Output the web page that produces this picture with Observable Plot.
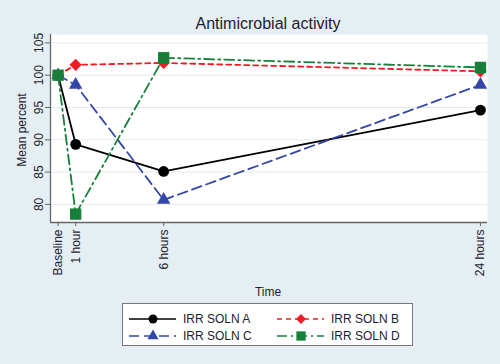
<!DOCTYPE html>
<html><head><meta charset="utf-8">
<script src="https://cdn.jsdelivr.net/npm/d3@7"></script>
<script src="https://cdn.jsdelivr.net/npm/@observablehq/plot@0.6"></script>
<style>
html,body{margin:0;padding:0;background:#e5eef2;}
#wrap{position:relative;width:500px;height:364px;background:#e5eef2;font-family:"Liberation Sans",Arial,sans-serif;overflow:hidden;}
#wrap svg.plot{position:absolute;left:0;top:0;background:transparent;}
.title{position:absolute;left:0;width:536px;top:15px;text-align:center;font-size:16px;line-height:18px;color:#1b2330;}
.ylab{position:absolute;left:22px;top:130px;font-size:12px;line-height:12px;color:#1b2330;white-space:nowrap;transform:translate(-50%,-50%) rotate(-90deg);}
.xlab{position:absolute;left:268px;top:292px;font-size:12px;line-height:12px;color:#1b2330;transform:translate(-50%,-50%);}
.legend{position:absolute;left:122px;top:303px;width:289px;height:41px;background:#fff;border:1px solid #777;}
.item{position:absolute;height:14px;font-size:12px;line-height:14px;color:#1b2330;white-space:nowrap;}
.item svg{position:absolute;left:0;top:0;}
.item span{position:absolute;left:54px;top:0;}
</style></head><body><div id="wrap"></div>
<script>
const hours = [0, 1, 6, 24];
const timeLabels = ["Baseline", "1 hour", "6 hours", "24 hours"];
const seriesNames = ["IRR SOLN A", "IRR SOLN B", "IRR SOLN C", "IRR SOLN D"];
const solnA = [100, 89.3, 85.1, 94.6];
const solnB = [100, 101.6, 101.9, 100.6];
const solnC = [100, 98.5, 80.7, 98.5];
const solnD = [100, 78.5, 102.7, 101.2];
const yTicks = [80, 85, 90, 95, 100, 105];
const colors = ["#000000", "#ee1d25", "#3446a8", "#16803b"];
const dashes = [null, "5,4", "10,5", "10,4,2,4"];
const symbols = ["circle", "diamond2", "triangle", "square"];
const radii = [5.4, 5.5, 5.0, 6.4];
const xDomain = [-0.43, 24.4];
const yDomain = [77.2, 106.3];

const seriesValues = [solnA, solnB, solnC, solnD];
const rows = seriesNames.flatMap((s, i) => hours.map((h, j) => ({series: s, hour: h, value: seriesValues[i][j]})));

const marks = [
  Plot.frame({fill: "white", stroke: null}),
  Plot.gridY(yTicks, {stroke: "#e3eaee", strokeOpacity: 1}),
  Plot.ruleX([xDomain[0]], {stroke: "#666", strokeWidth: 1.3}),
  Plot.ruleY([yDomain[0]], {stroke: "#666", strokeWidth: 1.3}),
  Plot.axisY(yTicks, {tickSize: 5, tickPadding: 3, tickRotate: -90, fontSize: 12, stroke: "#666", fill: "#1b2330", label: null}),
  Plot.axisX(hours, {tickSize: 4, tickPadding: 3, tickRotate: -90, fontSize: 12, stroke: "#666", fill: "#1b2330", label: null,
    tickFormat: d => timeLabels[hours.indexOf(d)]})
];
seriesNames.forEach((s, i) => {
  const d = rows.filter(r => r.series === s);
  marks.push(Plot.line(d, {x: "hour", y: "value", stroke: colors[i], strokeWidth: 1.8, strokeDasharray: dashes[i]}));
  marks.push(Plot.dot(d, {x: "hour", y: "value", symbol: symbols[i], r: radii[i], fill: colors[i], stroke: null}));
});

const chart = Plot.plot({
  width: 500, height: 364,
  marginTop: 34, marginRight: 13, marginBottom: 142, marginLeft: 50,
  style: {background: "transparent", fontFamily: "Liberation Sans, Arial, sans-serif", fontSize: "12px"},
  x: {type: "linear", domain: xDomain},
  y: {type: "linear", domain: yDomain},
  marks
});
chart.classList.add("plot");
const wrap = document.getElementById("wrap");
wrap.appendChild(chart);

function addDiv(cls, text) { const e = document.createElement("div"); e.className = cls; e.textContent = text; wrap.appendChild(e); return e; }
addDiv("title", "Antimicrobial activity");
addDiv("ylab", "Mean percent");
addDiv("xlab", "Time");

const legend = document.createElement("div");
legend.className = "legend";
wrap.appendChild(legend);
const pos = [[6, 8], [154, 8], [6, 25], [154, 25]];
const symMap = {circle: d3.symbolCircle, diamond2: d3.symbolDiamond2, triangle: d3.symbolTriangle, square: d3.symbolSquare};
seriesNames.forEach((s, i) => {
  const it = document.createElement("div");
  it.className = "item";
  it.style.left = pos[i][0] + "px";
  it.style.top = pos[i][1] + "px";
  const svg = d3.create("svg").attr("width", 48).attr("height", 14);
  svg.append("line").attr("x1", 0).attr("x2", 47).attr("y1", 7).attr("y2", 7)
    .attr("stroke", colors[i]).attr("stroke-width", 1.7).attr("stroke-dasharray", dashes[i]);
  const rr = radii[i] * 0.82;
  svg.append("path").attr("transform", "translate(24,7)")
    .attr("d", d3.symbol(symMap[symbols[i]], Math.PI * rr * rr)())
    .attr("fill", colors[i]);
  it.appendChild(svg.node());
  const sp = document.createElement("span");
  sp.textContent = s;
  it.appendChild(sp);
  legend.appendChild(it);
});
</script></body></html>
